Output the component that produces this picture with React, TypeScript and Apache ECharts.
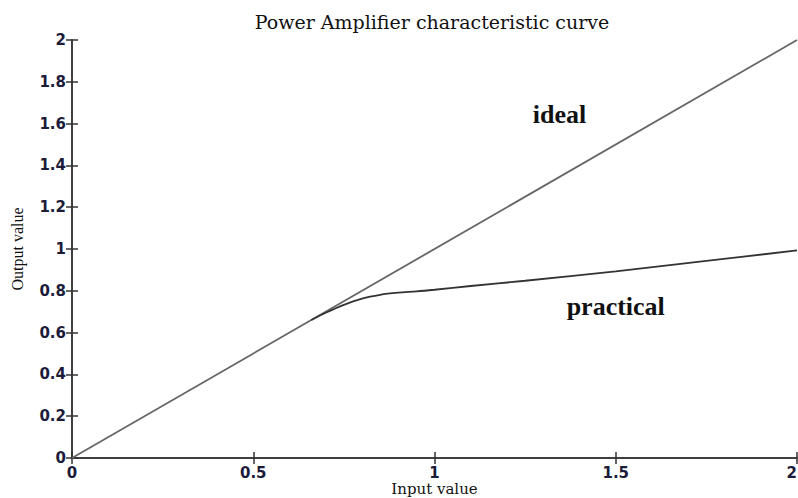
import React, { useEffect, useRef } from "react";
import * as echarts from "echarts";

const idealX = [0, 2];
const idealY = [0, 2];
const practicalX = [0.66, 0.7, 0.75, 0.8, 0.85, 0.9, 0.95, 1.0, 1.1, 1.25, 1.5, 1.75, 2.0];
const practicalY = [0.66, 0.695, 0.733, 0.763, 0.781, 0.791, 0.797, 0.805, 0.823, 0.848, 0.893, 0.943, 0.993];
const xTicks = [0, 0.5, 1, 1.5, 2];
const yTicks = [0, 0.2, 0.4, 0.6, 0.8, 1, 1.2, 1.4, 1.6, 1.8, 2];
const labels = [
  { name: "ideal", x: 1.345, y: 1.645 },
  { name: "practical", x: 1.5, y: 0.725 },
];

export default function App() {
  const ref = useRef<HTMLDivElement>(null);
  useEffect(() => {
    document.body.style.margin = "0";
    const chart = echarts.init(ref.current!, null, { renderer: "svg" });
    const axisLine = { show: true, lineStyle: { color: "#333", width: 1.5 } };
    const tick = { show: true, inside: true, length: 6, lineStyle: { color: "#333", width: 1.5 } };
    const labelStyle = {
      fontFamily: "DejaVu Sans, sans-serif",
      fontWeight: "bold" as const,
      fontSize: 15,
      color: "#1c1c3a",
    };
    const annot = (i: number) => ({
      coord: [labels[i].x, labels[i].y],
      label: {
        show: true,
        position: "inside",
        formatter: labels[i].name,
        fontFamily: "Liberation Serif, serif",
        fontWeight: "bold",
        fontSize: 26,
        color: "#111",
      },
    });
    chart.setOption({
      animation: false,
      backgroundColor: "#fff",
      title: {
        text: "Power Amplifier characteristic curve",
        left: 427,
        textAlign: "center",
        top: 7,
        textStyle: { fontFamily: "DejaVu Serif, serif", fontWeight: "normal", fontSize: 19, color: "#111" },
      },
      grid: { left: 72, right: 1, top: 40, bottom: 40, outerBoundsMode: "none", containLabel: false },
      xAxis: [
        {
          type: "value",
          min: 0,
          max: 2,
          interval: 0.5,
          axisLine,
          axisTick: tick,
          splitLine: { show: false },
          axisLabel: {
            ...labelStyle,
            margin: 7,
            alignMaxLabel: "right",
            formatter: (v: number) => (xTicks.includes(v) ? String(v) : ""),
          },
          name: "Input value",
          nameLocation: "middle",
          nameGap: 31,
          nameMoveOverlap: false,
          nameTextStyle: { fontFamily: "DejaVu Serif, serif", fontSize: 15, color: "#111", verticalAlign: "middle" },
        },
        {
          type: "value",
          position: "top",
          min: 0,
          max: 2,
          interval: 0.5,
          axisLine,
          axisTick: tick,
          splitLine: { show: false },
          axisLabel: { show: false },
        },
      ],
      yAxis: [
        {
          type: "value",
          min: 0,
          max: 2,
          interval: 0.2,
          axisLine,
          axisTick: tick,
          splitLine: { show: false },
          axisLabel: {
            ...labelStyle,
            margin: 6,
            formatter: (v: number) => {
              const t = yTicks.find((y) => Math.abs(y - v) < 1e-6);
              return t === undefined ? "" : String(t);
            },
          },
          name: "Output value",
          nameLocation: "middle",
          nameGap: 47,
          nameRotate: 90,
          nameMoveOverlap: false,
          nameTextStyle: { fontFamily: "Liberation Serif, serif", fontSize: 16, color: "#111" },
        },
        {
          type: "value",
          position: "right",
          min: 0,
          max: 2,
          interval: 0.2,
          axisLine,
          axisTick: tick,
          splitLine: { show: false },
          axisLabel: { show: false },
        },
      ],
      series: [
        {
          type: "line",
          name: "ideal",
          data: idealX.map((x, i) => [x, idealY[i]]),
          showSymbol: false,
          lineStyle: { color: "#666", width: 1.8 },
          markPoint: { symbol: "rect", symbolSize: 0, data: [annot(0)] },
        },
        {
          type: "line",
          name: "practical",
          data: practicalX.map((x, i) => [x, practicalY[i]]),
          showSymbol: false,
          smooth: 0.3,
          lineStyle: { color: "#333", width: 1.8 },
          markPoint: { symbol: "rect", symbolSize: 0, data: [annot(1)] },
        },
      ],
    });
    return () => chart.dispose();
  }, []);
  return <div ref={ref} style={{ width: 798, height: 498 }} />;
}
